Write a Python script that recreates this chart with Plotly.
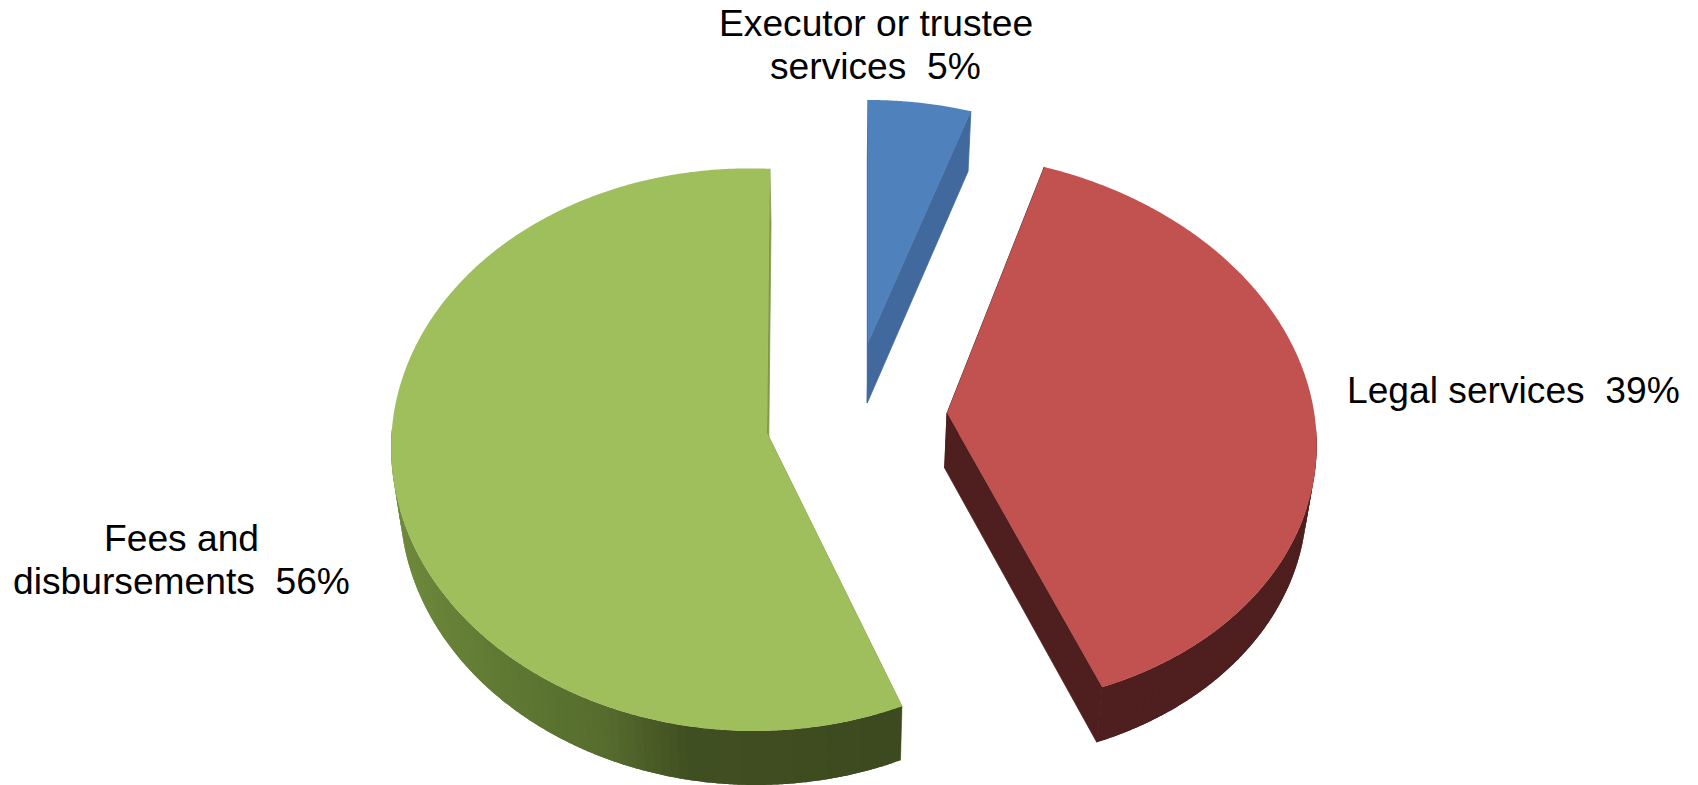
import numpy as np
import plotly.graph_objects as go

# Chart data
categories = ["Executor or trustee services", "Legal services", "Fees and disbursements"]
shares = [5, 39, 56]
label_lines = [["Executor or trustee", "services"], ["Legal services"], ["Fees and", "disbursements"]]

# Appearance of each slice
top_colors = ["#4f81bd", "#c2524f", "#9fbf5c"]
cut_colors = ["#41699e", "#4e1f1e", "#7f9a45"]
wall_stops = [
    [(800, "#41699e"), (1000, "#41699e")],
    [(900, "#4e1f1e"), (1400, "#4e1f1e")],
    [(395, "#6f8a3c"), (500, "#607a34"), (610, "#566c2e"), (690, "#415022"), (905, "#3d4a20")],
]

# Camera for each exploded slice: apex on the page, radii, shear, perspective and sweep offset
views = [
    dict(ax=868, ay=343, rx=352, ry=257.6, sx=0, sy=0, k=0.06, m=0.0, shift=0.0, depth=60),
    dict(ax=947, ay=413, rx=369, ry=275.6, sx=0, sy=-15, k=0.061, m=0.0, shift=-1.8, depth=55),
    dict(ax=767, ay=433, rx=359.4, ry=280, sx=3, sy=-5, k=0.06, m=0.0415, shift=0.0, depth=54),
]
BASE_SCALE = 0.98
BASE_CENTER_X = 830
WIDTH, HEIGHT = 1698, 785
FONT = "Liberation Sans"
FONT_SIZE = 37.2
# Text placement: page x centre and the y of the first line, then line pitch
label_anchor = [(875.5, 23), (1513, 390), (181, 538)]
LINE_PITCH = 43


def project(view, deg):
    t = np.radians(np.asarray(deg, dtype=float) + view["shift"])
    u, v = np.sin(t), np.cos(t)
    w = 1 + view["k"] * v + view["m"] * u
    x = view["ax"] + (view["rx"] * u + view["sx"] * v) / w
    y = view["ay"] - (view["ry"] * v + view["sy"] * u) / w
    return x, y, v


def to_base(view, x, y):
    return BASE_CENTER_X + (np.asarray(x) - BASE_CENTER_X) * BASE_SCALE, np.asarray(y) + view["depth"]


def hex_rgb(c):
    return np.array([int(c[i:i + 2], 16) for i in (1, 3, 5)], dtype=float)


def wall_color(stops, x):
    xs = [s[0] for s in stops]
    rgb = [np.interp(x, xs, [hex_rgb(s[1])[i] for s in stops]) for i in range(3)]
    return "rgb(%d,%d,%d)" % tuple(rgb)


def poly(xs, ys, color, edge=0.0):
    return go.Scatter(
        x=list(xs), y=list(ys), mode="lines", fill="toself", fillcolor=color,
        line=dict(color=color, width=edge, simplify=False), hoverinfo="skip", showlegend=False,
    )


fig = go.Figure()
start = 0.0
for i, share in enumerate(shares):
    end = start + share * 3.6
    view = views[i]
    deg = np.linspace(start, end, int(round((end - start) * 3)) + 1)
    x, y, v = project(view, deg)
    bx, by = to_base(view, x, y)
    apex_x, apex_y = view["ax"], view["ay"]
    base_ax, base_ay = to_base(view, apex_x, apex_y)

    # Cut faces, from the apex out to each end of the rim
    for j in (0, -1):
        fig.add_trace(poly(
            [apex_x, x[j], bx[j], base_ax, apex_x],
            [apex_y, y[j], by[j], base_ay, apex_y],
            cut_colors[i], edge=0.8,
        ))

    # Outer wall drawn as overlapping narrow bands so the shading can follow the page x position
    front = np.flatnonzero(v < 0.0)
    if front.size:
        for a in range(front[0], front[-1] + 1, 4):
            b = min(a + 8, front[-1])
            fig.add_trace(poly(
                np.r_[x[a:b + 1], bx[a:b + 1][::-1], x[a]],
                np.r_[y[a:b + 1], by[a:b + 1][::-1], y[a]],
                wall_color(wall_stops[i], float(x[a])),
            ))

    # Top face
    fig.add_trace(poly(
        np.r_[apex_x, x, apex_x], np.r_[apex_y, y, apex_y], top_colors[i],
    ))
    start = end

annotations = []
for lines, share, (cx, cy) in zip(label_lines, shares, label_anchor):
    texts = list(lines)
    texts[-1] = f"{texts[-1]}\u00a0\u00a0{share}%"
    for n, text in enumerate(texts):
        annotations.append(dict(
            x=cx, y=cy + n * LINE_PITCH, xref="x", yref="y", text=text, showarrow=False,
            xanchor="center", yanchor="middle",
            font=dict(family=FONT, size=FONT_SIZE, color="#000000"),
        ))

fig.update_layout(
    width=WIDTH, height=HEIGHT, margin=dict(l=0, r=0, t=0, b=0),
    paper_bgcolor="white", plot_bgcolor="white", showlegend=False,
    xaxis=dict(range=[0, WIDTH], visible=False, fixedrange=True),
    yaxis=dict(range=[HEIGHT, 0], visible=False, fixedrange=True),
    annotations=annotations,
)
fig.write_html("out.html", config=dict(displayModeBar=False))
